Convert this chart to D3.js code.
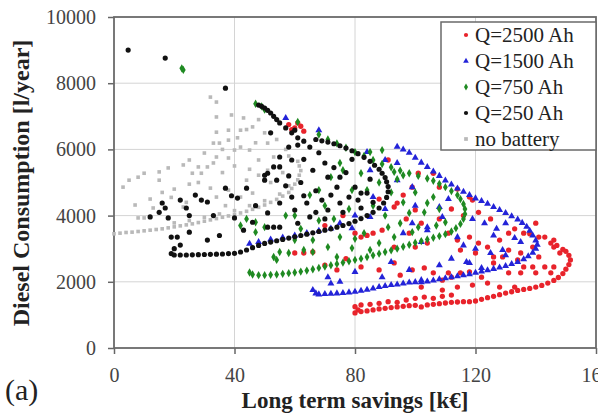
<!DOCTYPE html>
<html>
<head>
<meta charset="utf-8">
<script src="https://cdn.jsdelivr.net/npm/d3@7"></script>
<style>
  body { margin: 0; background: #fff; }
  svg text { font-family: 'Liberation Serif', 'Times New Roman', serif !important; }
</style>
</head>
<body>
<svg width="598" height="416"></svg>
<script>
const xTicks = [0, 40, 80, 120, 160];
const yTicks = [0, 2000, 4000, 6000, 8000, 10000];
const seriesNames = ['Q=2500 Ah', 'Q=1500 Ah', 'Q=750 Ah', 'Q=250 Ah', 'no battery'];

// [long term savings (k€), diesel consumption (l/year)]
const q2500 = [
  [80,1060],[81,1150],[82,1100],[84,1120],[86,1150],[88,1180],[90,1200],[92,1220],[94,1240],[96,1260],
  [98,1280],[100,1290],[102,1240],[104,1300],[106,1320],[108,1340],[110,1360],[112,1380],[114,1390],[116,1400],
  [118,1400],[120,1420],[122,1470],[124,1520],[126,1560],[128,1610],[130,1660],[132,1700],[134,1740],[136,1770],
  [138,1800],[140,1840],[142,1890],[144,1960],[146,2040],[147.5,2130],[149,2250],[150,2380],[151,2520],[151.5,2660],
  [151,2800],[150,2920],[149,2980],
  [80,1250],[82,1300],[85,1320],[88,1350],[91,1400],[94,1380],[97,1450],[100,1500],[103,1540],[106,1500],[109,1560],[112,1600],
  [147,3100],[146,3260],[143,3350],[141,3350],[138,3450],[133,3600],[131,3470],[125,3900],[121,4100],[119,4470],
  [118,4560],[114,4800],[108,4860],[101,5280],[106,5280],[99,4860],[94,4380],[91,5680],
  [58,6750],[60,6650],[62,6700],[63,6550],[61,6800],[59,6600],
  [60,2870],[63,2870],[66,2900],[80,3470],[82,3350],[84,3400],[86,3470],[74,2360],[93,4260],[96,4620],
  [100,4170],[102,3770],[89,3560],[99,2360],[103,2420],[106,2270],[93,2570],[88,2360],[82,2450],[93,3050],
  [98,3470],[100,3050],[104,3170],[111,3470],[114,3260],[118,3350],[121,3170],[124,3050],[128,3260],[131,2960],
  [126,2570],[134,2660],[136,2450],[131,2270],[124,1960],[119,1900],[114,1840],[109,1750],[102,1840],[111,2270],
  [139,3050],[141,2750],[143,2450],[145,3170],[136,3470],[140,3770],[146,3050],[148,2870],[146,2450],[145,2270],
  [140,2270],[139,2450],[135,2270],[133,1840],[128,1840],[126,2750],[129,2750],[135,2870],[122,2140],[115,2270],
  [112,2140],[109,2050],[115,2960],[120,2870],[70,3700],[76,4000],[88,4500],[97,3900],[108,3900],[112,4200],
  [116,4000],[77,2700],[70,2500],[95,2200],[118,2300]
];

const q1500 = [
  [66,1750],[67,1650],[68,1620],[70,1630],[72,1640],[74,1650],[76,1660],[78,1680],[80,1700],[82,1730],
  [84,1760],[86,1800],[88,1840],[90,1870],[92,1900],[94,1920],[96,1950],[98,1980],[100,1990],[102,1990],
  [104,2010],[106,2040],[108,2080],[110,2110],[112,2140],[114,2170],[116,2200],[118,2230],[120,2270],[122,2310],
  [124,2350],[126,2390],[128,2430],[130,2480],[132,2540],[134,2600],[136,2680],[137.5,2770],[139,2880],[140,3000],
  [140.5,3120],[140,3250],[139,3400],[138,3540],[137,3660],[135.5,3780],[134,3880],[132,3980],[130,4080],[128,4170],
  [126,4260],[124,4360],[122,4440],[120,4520],[118,4620],[116,4720],[114,4820],[112,4940],[110,5060],[108,5200],
  [106,5330],[104,5470],[102,5600],[100,5750],[98,5900],[96,6000],[94,6080],
  [45,3150],[48,3200],[52,3280],[56,3340],[60,3400],[64,3470],[68,3540],[72,3610],
  [57,6950],[68,6580],
  [75,3770],[79,3620],[85,3960],[96,3470],[99,3770],[102,3200],[104,3560],[108,4260],[71,2140],[89,2140],
  [98,2360],[102,2050],[118,2570],[122,2420],[125,2870],[129,2960],[123,3770],[130,3770],[133,3320],[104,3650],
  [109,3960],[114,3350],[85,5370],[94,5070],[86,4560],[99,4860],[90,5680],[84,5920],[94,5590],[120,3000],
  [126,3400],[116,3100],[112,2700],[108,2500],[92,2600],[80,2300],[130,2800],[135,3200],[119,3900],[111,4500],
  [100,4300],[90,4200],[80,4000],[72,1950],[75,2000],[127,3600],[117,2600]
];

const q750 = [
  [45,2280],[46,2220],[48,2200],[50,2200],[52,2210],[54,2220],[56,2240],[58,2260],[60,2280],[62,2310],
  [64,2340],[66,2380],[68,2420],[70,2460],[72,2500],[74,2540],[76,2580],[78,2620],[80,2660],[82,2700],
  [84,2750],[86,2800],[88,2850],[90,2900],[92,2950],[94,3000],[96,3060],[98,3120],[100,3180],[102,3230],
  [104,3280],[106,3330],[108,3380],[110,3440],[112,3520],[113.5,3620],[115,3750],[116,3900],[116.5,4050],[116.5,4200],
  [116,4350],[115,4500],[114,4620],[112,4740],[110,4860],[108,4960],[106,5050],[104,5120],[101,5200],[98,5280],
  [95,5360],[92,5460],[89,5560],[86,5680],[83,5800],[80,5920],[77,6050],[74,6180],[71,6300],[68,6450],
  [47,7380],[49,7300],[50,7200],[23,8400],[22.5,8450],
  [54,2660],[58,2870],[60,3260],[63,2960],[66,3260],[71,3050],[74,2750],[75,3350],[79,3020],[83,3470],
  [88,3170],[85,2960],[91,3650],[93,3350],[95,3770],[98,4080],[101,3650],[104,4380],[106,4560],[42,3700],
  [44,3900],[47,3800],[50,3650],[53,2750],[55,2900],[75,5590],[72,5160],[76,5370],[68,4770],[65,4620],
  [79,4770],[84,4770],[82,5280],[61,6830],[57,4000],[62,3600],[68,3850],[73,3900],[78,4200],[86,4300],
  [90,4000],[92,4700],[96,4400],[100,4700],[103,4100],[108,4200],[110,3800],[107,3700],[99,3500],[88,5000],
  [94,5100],[70,4300],[60,4000],[47,3500],[66,2900],[80,3300],[89,5980],[85,5920],[93,5320],[96,5220]
];

const q250 = [
  [19,2850],[20,2810],[22,2810],[24,2810],[26,2815],[28,2820],[30,2825],[32,2830],[34,2835],[36,2840],
  [38,2850],[40,2860],[42,2900],[44,2960],[46,3030],[48,3100],[50,3160],[52,3200],[54,3240],[56,3280],
  [58,3320],[60,3360],[62,3400],[64,3440],[66,3480],[68,3520],[70,3560],[72,3600],[74,3650],[76,3700],
  [78,3760],[80,3830],[82,3910],[84,4000],[86,4100],[88,4230],[89.5,4380],[90.5,4550],[91,4720],[91,4880],
  [90.5,5020],[90,5150],[89,5280],[88,5400],[86.5,5520],[85,5640],[83,5760],[81,5870],[79,5960],[77,6040],
  [75,6110],[73,6170],[71,6220],[69,6260],[67,6300],
  [48,7340],[49,7300],[50,7250],[51,7180],[52,7100],[53,7000],[54,6900],[55,6800],[57,6650],[59,6500],
  [61,6350],[63,6250],
  [4.7,9000],[17,8760],[37,7850],
  [12,3960],[16,4380],[17,4230],[18,3930],[22,4470],[24,4230],[27,4620],[29,4470],[31,4410],[19,3350],
  [21,3350],[22,3110],[31,3260],[37,4830],[41,4530],[44,4830],[50,5220],[50,5070],[53,5470],[40,3930],
  [43,3560],[53,3650],[51,4080],[55,4380],[59,4560],[60,4170],[64,4380],[65,3960],[69,4470],[71,4170],
  [72,4620],[75,4380],[78,4560],[81,4470],[82,4230],[84,4680],[61,3770],[55,3650],[51,3650],[52,6500],
  [60,6580],[61,6130],[58,6070],[55,5770],[59,5680],[65,6070],[66,5370],[51,5280],[55,5470],[54,5070],
  [71,5160],[75,5160],[70,5590],[74,4860],[80,4860],[82,4680],[20,3000],[25,3500],[35,3400],[47,4300],
  [57,4900],[62,5000],[67,4750],[77,5300],[79,5700],[68,5900],[63,5700],[73,5450],[85,5100],[70,3900],
  [76,4100],[46,3800],[33,4000],[39,4600],[58,5200],[15,4100],[25,4000],[63,4600],[67,4100],[86,4400]
];

const noBattery = [
  [0,3450],[2,3470],[4,3490],[6,3500],[8,3520],[10,3540],[12,3560],[14,3580],[16,3600],[18,3630],
  [20,3660],[22,3690],[24,3720],[26,3750],[28,3790],[30,3830],[32,3870],[34,3910],[36,3950],[38,3990],
  [40,4030],[42,4080],[44,4130],[46,4190],[48,4250],[50,4320],[52,4400],[54,4490],[56,4590],[58,4700],
  [59,4820],[60,4950],[61,5080],[61.5,5220],[62,5360],[61.5,5500],[61,5640],
  [20,3780],[25,3850],[30,3950],[35,4050],[40,4150],[45,4300],[50,4450],[55,4650],[58,4900],
  [3,4860],[5,5070],[8,5160],[10,5280],[15,5070],[15,5320],[18,5440],[23,5530],[25,5680],[28,5470],
  [31,5470],[26,5280],[29,5280],[33,5590],[34,5770],[38,5740],[40,5980],[42,6070],[33,6190],[35,6190],
  [30,5890],[7,4320],[13,4230],[8,3930],[10,3930],[23,4260],[29,4470],[34,4560],[32,4830],[38,4770],
  [42,4560],[46,4680],[44,5070],[48,5220],[51,5370],[53,5770],[48,5680],[45,5980],[51,6190],[38,6280],
  [32,7580],[34,7430],[34,6980],[39,7040],[43,6950],[34,6520],[38,6580],[42,6580],[46,6680],[50,6500],
  [20,4800],[25,4950],[36,5300],[40,5500],[45,5400],[55,5500],[57,6000],[54,6300],[47,6200],[41,6350],
  [36,6000],[28,5000],[19,4550],[16,4700],[12,4500],[24,4400],[37,4300],[52,5000],[56,5300],[58,5800],
  [44,6600],[48,6900]
];

const margin = { top: 17, right: 2, bottom: 68, left: 114 };
const width = 598 - margin.left - margin.right;
const height = 416 - margin.top - margin.bottom;

const svg = d3.select('svg');
svg.append('rect').attr('width', 598).attr('height', 416).attr('fill', '#fff');

const chart = svg.append('g')
  .attr('transform', `translate(${margin.left}, ${margin.top})`);

const xScale = d3.scaleLinear().domain([0, 160]).range([0, width]);
const yScale = d3.scaleLinear().domain([0, 10000]).range([height, 0]);

// grid
chart.append('g')
  .selectAll('line')
  .data(xTicks.slice(1, -1))
  .enter()
  .append('line')
  .attr('x1', (d) => xScale(d)).attr('x2', (d) => xScale(d))
  .attr('y1', 0).attr('y2', height)
  .attr('stroke', '#d4d4d4');

chart.append('g')
  .selectAll('line')
  .data(yTicks.slice(1, -1))
  .enter()
  .append('line')
  .attr('y1', (d) => yScale(d)).attr('y2', (d) => yScale(d))
  .attr('x1', 0).attr('x2', width)
  .attr('stroke', '#d4d4d4');

// axes
const yAxis = chart.append('g')
  .attr('font-family', "'Liberation Serif', serif")
  .call(d3.axisLeft(yScale).tickValues(yTicks).tickFormat(d3.format('d')).tickSize(6).tickPadding(12));

const xAxis = chart.append('g')
  .attr('transform', `translate(0, ${height})`)
  .call(d3.axisBottom(xScale).tickValues(xTicks).tickFormat(d3.format('d')).tickSize(6).tickPadding(14));

[xAxis, yAxis].forEach((a) => {
  a.attr('font-family', "'Liberation Serif', serif");
  a.select('.domain').remove();
  a.selectAll('line').attr('stroke', '#666').attr('stroke-width', 1.5);
  a.selectAll('text')
    .style('font-family', "'Liberation Serif', serif")
    .attr('font-size', 20)
    .attr('fill', '#444');
});

chart.append('rect')
  .attr('width', width)
  .attr('height', height)
  .attr('fill', 'none')
  .attr('stroke', '#6a6a6a')
  .attr('stroke-width', 1.8);

// points
const series = [
  { data: noBattery, color: '#b9b9b9', type: d3.symbolSquare, size: 13 },
  { data: q2500, color: '#e8232b', type: d3.symbolCircle, size: 22 },
  { data: q1500, color: '#2323d8', type: d3.symbolTriangle, size: 21 },
  { data: q750, color: '#1f8a22', type: d3.symbolDiamond, size: 20 },
  { data: q250, color: '#111111', type: d3.symbolCircle, size: 21 }
];

series.forEach((s) => {
  chart.append('g')
    .selectAll('path')
    .data(s.data)
    .enter()
    .append('path')
    .attr('transform', (d) => `translate(${xScale(d[0])}, ${yScale(d[1])})`)
    .attr('d', d3.symbol().type(s.type).size(s.size))
    .attr('fill', s.color);
});

// legend
const legendItems = [
  { name: seriesNames[0], color: '#e8232b', type: d3.symbolCircle },
  { name: seriesNames[1], color: '#2323d8', type: d3.symbolTriangle },
  { name: seriesNames[2], color: '#1f8a22', type: d3.symbolDiamond },
  { name: seriesNames[3], color: '#111111', type: d3.symbolCircle },
  { name: seriesNames[4], color: '#b9b9b9', type: d3.symbolSquare }
];

const legend = svg.append('g').attr('transform', 'translate(441, 22)');

legend.append('rect')
  .attr('width', 155)
  .attr('height', 128)
  .attr('fill', '#fff')
  .attr('stroke', '#6a6a6a')
  .attr('stroke-width', 1.5);

const rows = legend.selectAll('.row')
  .data(legendItems)
  .enter()
  .append('g')
  .attr('transform', (d, i) => `translate(0, ${13 + i * 26})`);

rows.append('path')
  .attr('transform', 'translate(25, 0)')
  .attr('d', (d) => d3.symbol().type(d.type).size(14)())
  .attr('fill', (d) => d.color);

rows.append('text')
  .attr('x', 34)
  .attr('y', 7)
  .attr('font-size', 21)
  .attr('fill', '#222')
  .text((d) => d.name);

// labels
svg.append('text')
  .attr('transform', 'rotate(-90)')
  .attr('x', -183)
  .attr('y', 29)
  .attr('text-anchor', 'middle')
  .attr('font-size', 24)
  .attr('font-weight', 'bold')
  .attr('fill', '#222')
  .text('Diesel Consumption [l/year]');

svg.append('text')
  .attr('x', 355)
  .attr('y', 408)
  .attr('text-anchor', 'middle')
  .attr('font-size', 23)
  .attr('font-weight', 'bold')
  .attr('fill', '#222')
  .text('Long term savings [k€]');

svg.append('text')
  .attr('x', 5)
  .attr('y', 400)
  .attr('font-size', 30)
  .attr('fill', '#222')
  .text('(a)');
</script>
</body>
</html>
